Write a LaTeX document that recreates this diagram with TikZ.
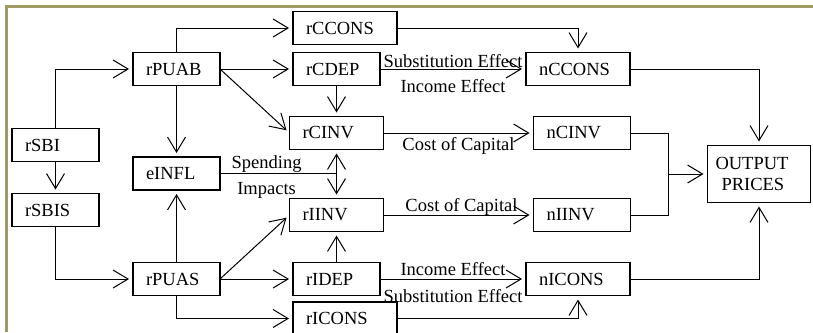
\documentclass[tikz,border=0pt]{standalone}
\usepackage{fontspec}
\setmainfont{Liberation Serif}
\usetikzlibrary{arrows.meta,positioning,calc}
\definecolor{framecol}{RGB}{160,154,100}

\begin{document}
\begin{tikzpicture}[
  x=1pt, y=1pt,
  font=\fontsize{18.5}{21}\selectfont,
  box/.style={draw, line width=1.8pt, outer sep=0pt, minimum height=33pt, inner xsep=13pt, align=left, text width=#1},
  box/.default=61pt,
  arrow/.style={-{Straight Barb[length=15pt,width=18pt]}, line width=1pt, shorten >=4pt},
  link/.style={line width=1pt},
  note/.style={inner sep=1pt}
]
\useasboundingbox (0,0) rectangle (813,-332);
\draw[framecol, line width=2.6pt] (813,-6.5) -- (6.5,-6.5) -- (6.5,-332);

\node[box] (rPUAB) at (176.5,-69) {rPUAB};
\node[box, below=71.5pt of rPUAB] (eINFL) {eINFL};
\node[box, below=72.5pt of eINFL] (rPUAS) {rPUAS};
\node[box, below left=43pt and 34pt of rPUAB] (rSBI) {rSBI};
\node[box, below=32pt of rSBI] (rSBIS) {rSBIS};

\node[box, right=73pt of rPUAB] (rCDEP) {rCDEP};
\node[box=78pt, above=8pt of rCDEP.north west, anchor=south west] (rCCONS) {rCCONS};
\node[box=68pt, below=31pt of rCDEP] (rCINV) {rCINV};
\node[box=68pt, below=49pt of rCINV] (rIINV) {rIINV};
\node[box, right=73pt of rPUAS] (rIDEP) {rIDEP};
\node[box=78pt, below=6.5pt of rIDEP.south west, anchor=north west] (rICONS) {rICONS};

\node[box=78pt, right=146pt of rCDEP] (nCCONS) {nCCONS};
\node[box=71pt, right=150pt of rCINV] (nCINV) {nCINV};
\node[box=71pt, right=150pt of rIINV] (nIINV) {nIINV};
\node[box=78pt, right=146pt of rIDEP] (nICONS) {nICONS};

\coordinate (mid) at ($(nCINV.east)!.5!(nIINV.east)$);
\node[box=87pt, inner xsep=8pt, minimum height=57pt, right=77pt of mid] (OUTPUT) {OUTPUT\\\hspace*{6pt}PRICES};
\coordinate[right=38pt of mid] (join);

\draw[arrow] (rSBI.north) |- (rPUAB.west);
\draw[arrow] (rSBI) -- (rSBIS);
\draw[arrow] (rSBIS.south) |- (rPUAS.west);

\draw[arrow] (rPUAB.north) |- (rCCONS.west);
\draw[arrow] (rPUAB) -- (rCDEP);
\draw[arrow] (rPUAB.east) -- (rCINV.west);
\draw[arrow] (rPUAB) -- (eINFL);
\draw[arrow] (rCDEP) -- (rCINV);

\draw[arrow] (rPUAS) -- (eINFL);
\draw[arrow] (rPUAS.east) -- (rIINV.west);
\draw[arrow] (rPUAS) -- (rIDEP);
\draw[arrow] (rPUAS.south) |- (rICONS.west);
\draw[arrow] (rIDEP) -- (rIINV);

\draw[arrow] (eINFL.east) -| node[note, pos=0.2, above] {Spending}
  node[note, pos=0.2, below=7pt] {Impacts} (rCINV.south);
\draw[arrow] (eINFL.east) -| (rIINV.north);

\draw[arrow] (rCCONS.east) -| (nCCONS.north);
\draw[arrow] (rCDEP) -- node[note, above] {Substitution Effect}
  node[note, below=9pt] {Income Effect} (nCCONS);
\draw[arrow] (rCINV) -- node[note, below=3pt] {Cost of Capital} (nCINV);
\draw[arrow] (rIINV) -- node[note, pos=0.52, above=-2pt] {Cost of Capital} (nIINV);
\draw[arrow] (rIDEP) -- node[note, above=2pt] {Income Effect}
  node[note, below=9pt] {Substitution Effect} (nICONS);
\draw[arrow] (rICONS.east) -| (nICONS.south);

\draw[arrow] (nCCONS.east) -| (OUTPUT.north);
\draw[link] (nCINV.east) -| (join);
\draw[link] (nIINV.east) -| (join);
\draw[arrow] (join) -- (OUTPUT.west);
\draw[arrow] (nICONS.east) -| (OUTPUT.south);

\end{tikzpicture}
\end{document}
